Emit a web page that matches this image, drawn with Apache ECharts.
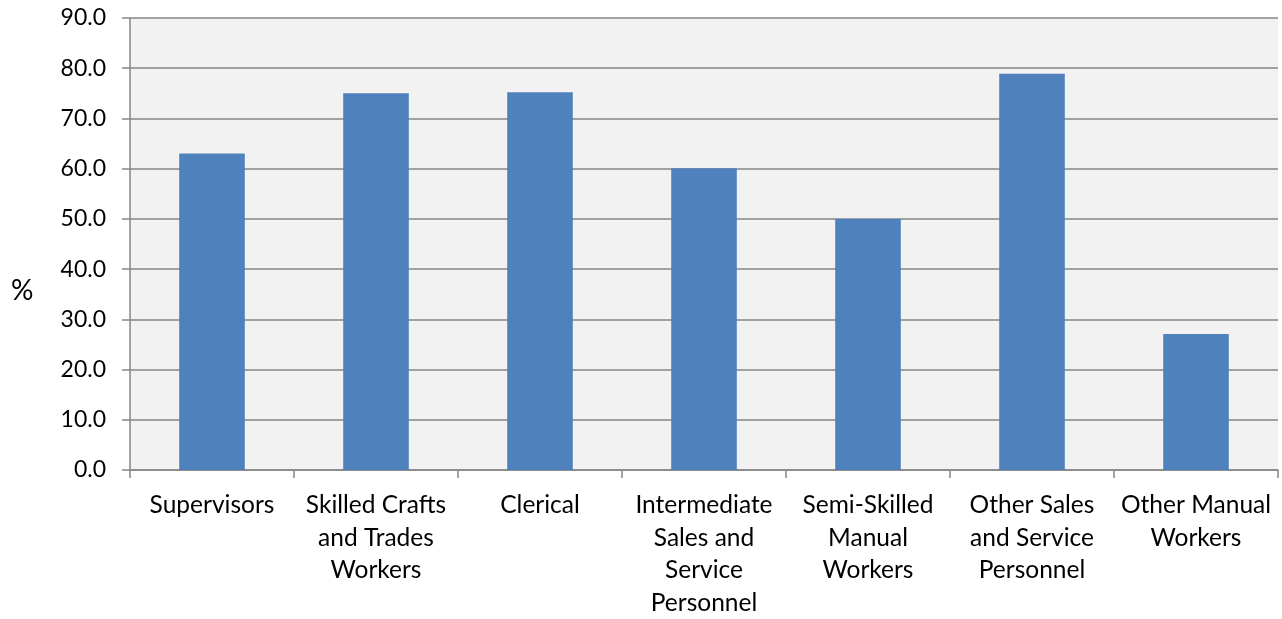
<!DOCTYPE html>
<html><head><meta charset="utf-8">
<script src="https://cdn.jsdelivr.net/npm/echarts@6/dist/echarts.min.js"></script>
<style>html,body{margin:0;padding:0;background:#fff}#c{width:1282px;height:619px}</style>
</head><body><div id="c"></div>
<script>
const categories = ["Supervisors", "Skilled Crafts\nand Trades\nWorkers", "Clerical", "Intermediate\nSales and\nService\nPersonnel", "Semi-Skilled\nManual\nWorkers", "Other Sales\nand Service\nPersonnel", "Other Manual\nWorkers"];
const values = [63.0, 75.0, 75.2, 60.1, 50.0, 78.9, 27.1];
const yAxisTitle = "%";

const chart = echarts.init(document.getElementById('c'), null, {renderer: 'canvas'});
const FONT = 'Lato';
chart.setOption({
  animation: false,
  grid: {left: 130, right: 4, top: 18, bottom: 147, show: true, backgroundColor: '#f2f2f2', borderWidth: 0},
  graphic: [{type: 'text', left: 11, top: 277, style: {text: yAxisTitle, fill: '#000', font: '28px Lato'}}],
  xAxis: {
    type: 'category', data: categories,
    axisLine: {lineStyle: {color: '#868686', width: 1.5}},
    axisTick: {show: true, length: 8, lineStyle: {color: '#868686', width: 1.5}},
    axisLabel: {color: '#000', fontFamily: FONT, fontSize: 24.5, lineHeight: 32.5, margin: 19, interval: 0}
  },
  yAxis: {
    type: 'value', min: 0, max: 90, interval: 10,
    axisLine: {show: true, lineStyle: {color: '#868686', width: 1.5}},
    axisTick: {show: true, length: 8, lineStyle: {color: '#868686', width: 1.5}},
    splitLine: {lineStyle: {color: '#868686', width: 1.5}},
    axisLabel: {color: '#000', fontFamily: FONT, fontSize: 23, margin: 24, formatter: v => v.toFixed(1)}
  },
  series: [{type: 'bar', data: values, barWidth: '40%', itemStyle: {color: '#4f81bd'}}]
});
</script></body></html>
